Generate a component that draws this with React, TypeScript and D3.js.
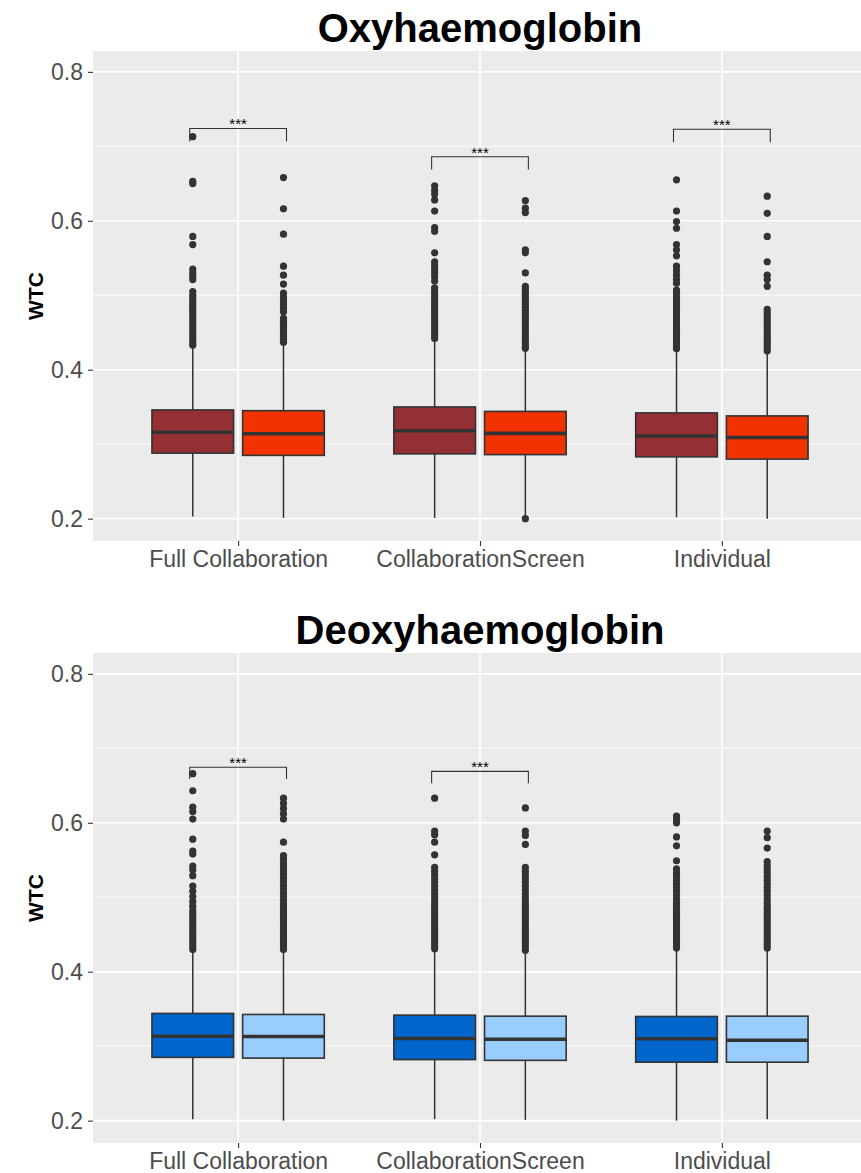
import { useRef, useEffect } from 'react';
import * as d3 from 'd3';

const groups = ['Full Collaboration', 'CollaborationScreen', 'Individual'];
const conditions = ['first', 'second'];
const yTicks = [0.2, 0.4, 0.6, 0.8];
const yMinorTicks = [0.3, 0.5, 0.7];

// box order: FC first, FC second, CS first, CS second, Ind first, Ind second
const oxyLower = [0.203, 0.201, 0.201, 0.204, 0.202, 0.2];
const oxyQ1 = [0.288, 0.285, 0.287, 0.286, 0.283, 0.28];
const oxyMedian = [0.316, 0.314, 0.318, 0.3145, 0.311, 0.309];
const oxyQ3 = [0.346, 0.345, 0.35, 0.344, 0.342, 0.338];
const oxyUpper = [0.431, 0.434, 0.44, 0.427, 0.427, 0.422];
const oxyOutliers = [
  [0.713, 0.653, 0.65, 0.579, 0.568, 0.535, 0.53, 0.525, 0.521, 0.505, 0.5, 0.496, 0.492, 0.488, 0.484, 0.48, 0.476, 0.472, 0.468, 0.464, 0.46, 0.456, 0.452, 0.448, 0.444, 0.44, 0.436, 0.433],
  [0.658, 0.616, 0.582, 0.539, 0.527, 0.515, 0.503, 0.498, 0.493, 0.488, 0.483, 0.478, 0.469, 0.465, 0.461, 0.457, 0.453, 0.449, 0.445, 0.441, 0.437],
  [0.647, 0.641, 0.636, 0.628, 0.613, 0.591, 0.586, 0.557, 0.545, 0.54, 0.535, 0.53, 0.525, 0.519, 0.51, 0.506, 0.502, 0.498, 0.494, 0.49, 0.486, 0.482, 0.478, 0.474, 0.47, 0.466, 0.462, 0.458, 0.454, 0.45, 0.446, 0.442],
  [0.627, 0.617, 0.611, 0.561, 0.557, 0.53, 0.512, 0.508, 0.504, 0.5, 0.496, 0.492, 0.488, 0.484, 0.48, 0.476, 0.472, 0.468, 0.464, 0.46, 0.456, 0.452, 0.448, 0.444, 0.44, 0.436, 0.432, 0.429, 0.2],
  [0.655, 0.613, 0.599, 0.59, 0.568, 0.561, 0.553, 0.539, 0.533, 0.527, 0.521, 0.516, 0.507, 0.503, 0.499, 0.495, 0.491, 0.487, 0.483, 0.479, 0.475, 0.471, 0.467, 0.463, 0.459, 0.455, 0.451, 0.447, 0.443, 0.439, 0.435, 0.431, 0.428],
  [0.633, 0.61, 0.579, 0.545, 0.527, 0.521, 0.512, 0.481, 0.477, 0.473, 0.469, 0.465, 0.461, 0.457, 0.453, 0.449, 0.445, 0.441, 0.437, 0.433, 0.429, 0.425],
];
const oxyBracketGroups = ['Full Collaboration', 'CollaborationScreen', 'Individual'];
const oxyBracketBar = [0.724, 0.686, 0.723];
const oxyBracketTip = [0.7065, 0.669, 0.7055];

const deoxyLower = [0.202, 0.2, 0.202, 0.201, 0.2, 0.202];
const deoxyQ1 = [0.285, 0.284, 0.282, 0.281, 0.2785, 0.2785];
const deoxyMedian = [0.3134, 0.313, 0.3103, 0.3094, 0.31, 0.308];
const deoxyQ3 = [0.344, 0.3426, 0.3417, 0.3403, 0.3399, 0.3403];
const deoxyUpper = [0.428, 0.426, 0.43, 0.426, 0.43, 0.429];
const deoxyOutliers = [
  [0.666, 0.643, 0.621, 0.615, 0.605, 0.578, 0.562, 0.558, 0.542, 0.537, 0.529, 0.515, 0.508, 0.501, 0.494, 0.488, 0.482, 0.478, 0.474, 0.47, 0.466, 0.462, 0.458, 0.454, 0.45, 0.446, 0.442, 0.438, 0.434, 0.43],
  [0.633, 0.626, 0.619, 0.612, 0.605, 0.574, 0.556, 0.551, 0.546, 0.541, 0.536, 0.531, 0.526, 0.521, 0.516, 0.511, 0.506, 0.501, 0.496, 0.491, 0.486, 0.482, 0.478, 0.474, 0.47, 0.466, 0.462, 0.458, 0.454, 0.45, 0.446, 0.442, 0.438, 0.434, 0.43],
  [0.633, 0.589, 0.584, 0.574, 0.557, 0.54, 0.535, 0.53, 0.525, 0.52, 0.515, 0.51, 0.505, 0.5, 0.495, 0.49, 0.486, 0.482, 0.478, 0.474, 0.47, 0.466, 0.462, 0.458, 0.454, 0.45, 0.446, 0.442, 0.438, 0.434, 0.431],
  [0.62, 0.589, 0.583, 0.571, 0.54, 0.535, 0.53, 0.525, 0.52, 0.515, 0.51, 0.505, 0.5, 0.495, 0.49, 0.486, 0.482, 0.478, 0.474, 0.47, 0.466, 0.462, 0.458, 0.454, 0.45, 0.446, 0.442, 0.438, 0.434, 0.429],
  [0.609, 0.605, 0.6, 0.581, 0.569, 0.549, 0.538, 0.533, 0.528, 0.523, 0.518, 0.513, 0.508, 0.503, 0.498, 0.493, 0.488, 0.484, 0.48, 0.476, 0.472, 0.468, 0.464, 0.46, 0.456, 0.452, 0.448, 0.444, 0.44, 0.436, 0.432],
  [0.589, 0.58, 0.566, 0.548, 0.543, 0.538, 0.533, 0.528, 0.523, 0.518, 0.513, 0.508, 0.503, 0.498, 0.493, 0.488, 0.484, 0.48, 0.476, 0.472, 0.468, 0.464, 0.46, 0.456, 0.452, 0.448, 0.444, 0.44, 0.436, 0.432],
];
const deoxyBracketGroups = ['Full Collaboration', 'CollaborationScreen'];
const deoxyBracketBar = [0.6745, 0.6691];
const deoxyBracketTip = [0.6588, 0.653];

const oxyColors = ['#943034', '#F23300'];
const deoxyColors = ['#0066CC', '#99CCFF'];

const font = '"Liberation Sans", Arial, Helvetica, sans-serif';

function App() {
  const svgRef = useRef(null);
  const width = 861;
  const height = 1173;

  useEffect(() => {
    const svg = d3.select(svgRef.current);
    svg.selectAll('*').remove();

    const panel = { left: 93, right: 867, top: 51, bottom: 541 };
    const x = d3
      .scalePoint()
      .domain(groups)
      .range([panel.left, panel.right])
      .padding(0.6);
    const step = x.step();
    const sub = d3
      .scaleBand()
      .domain(conditions)
      .range([-0.375 * step, 0.375 * step]);
    const y = d3
      .scaleLinear()
      .domain([0.17, 0.828])
      .range([panel.bottom, panel.top]);

    const drawPanel = (offset, title, stats, outliers, colors, brackets) => {
      const g = svg.append('g').attr('transform', `translate(0,${offset})`);

      g.append('rect')
        .attr('x', panel.left)
        .attr('y', panel.top)
        .attr('width', panel.right - panel.left)
        .attr('height', panel.bottom - panel.top)
        .attr('fill', '#EBEBEB');

      g.selectAll('.minor')
        .data(yMinorTicks)
        .join('line')
        .attr('x1', panel.left)
        .attr('x2', panel.right)
        .attr('y1', (d) => y(d))
        .attr('y2', (d) => y(d))
        .attr('stroke', '#fff')
        .attr('stroke-width', 0.8);

      g.selectAll('.major')
        .data(yTicks)
        .join('line')
        .attr('x1', panel.left)
        .attr('x2', panel.right)
        .attr('y1', (d) => y(d))
        .attr('y2', (d) => y(d))
        .attr('stroke', '#fff')
        .attr('stroke-width', 1.6);

      g.selectAll('.vgrid')
        .data(groups)
        .join('line')
        .attr('x1', (d) => x(d))
        .attr('x2', (d) => x(d))
        .attr('y1', panel.top)
        .attr('y2', panel.bottom)
        .attr('stroke', '#fff')
        .attr('stroke-width', 1.6);

      // axes
      const yAxis = g
        .append('g')
        .attr('transform', `translate(${panel.left},0)`)
        .call(
          d3
            .axisLeft(y)
            .tickValues(yTicks)
            .tickSize(5)
            .tickPadding(5)
            .tickFormat(d3.format('.1f'))
        );
      const xAxis = g
        .append('g')
        .attr('transform', `translate(0,${panel.bottom})`)
        .call(d3.axisBottom(x).tickSize(5).tickPadding(4.5));
      [yAxis, xAxis].forEach((a) => {
        a.select('.domain').remove();
        a.selectAll('.tick line').attr('stroke', '#333333').attr('stroke-width', 1.1);
        a.selectAll('.tick text')
          .attr('fill', '#4D4D4D')
          .style('font-family', font)
          .style('font-size', '23px');
      });

      g.append('text')
        .attr('transform', `translate(43,${(panel.top + panel.bottom) / 2}) rotate(-90)`)
        .attr('text-anchor', 'middle')
        .style('font-family', font)
        .style('font-size', '21px')
        .style('font-weight', 'bold')
        .text('WTC');

      g.append('text')
        .attr('x', (panel.left + panel.right) / 2)
        .attr('y', 41.5)
        .attr('text-anchor', 'middle')
        .style('font-family', font)
        .style('font-size', '40px')
        .style('font-weight', 'bold')
        .text(title);

      const boxes = [];
      groups.forEach((grp, i) => {
        conditions.forEach((c, j) => {
          const k = i * 2 + j;
          boxes.push({
            cx: x(grp) + sub(c) + sub.bandwidth() / 2,
            lower: stats.lower[k],
            q1: stats.q1[k],
            median: stats.median[k],
            q3: stats.q3[k],
            upper: stats.upper[k],
            outliers: outliers[k],
            fill: colors[j],
          });
        });
      });
      const bw = sub.bandwidth() * 0.9;

      const bg = g.selectAll('.box').data(boxes).join('g');
      bg.selectAll('circle')
        .data((d) => d.outliers.map((v) => ({ cx: d.cx, v })))
        .join('circle')
        .attr('cx', (d) => d.cx)
        .attr('cy', (d) => y(d.v))
        .attr('r', 3.6)
        .attr('fill', '#333333');
      bg.append('line')
        .attr('x1', (d) => d.cx)
        .attr('x2', (d) => d.cx)
        .attr('y1', (d) => y(d.upper))
        .attr('y2', (d) => y(d.q3))
        .attr('stroke', '#333333')
        .attr('stroke-width', 1.5);
      bg.append('line')
        .attr('x1', (d) => d.cx)
        .attr('x2', (d) => d.cx)
        .attr('y1', (d) => y(d.q1))
        .attr('y2', (d) => y(d.lower))
        .attr('stroke', '#333333')
        .attr('stroke-width', 1.5);
      bg.append('rect')
        .attr('x', (d) => d.cx - bw / 2)
        .attr('y', (d) => y(d.q3))
        .attr('width', bw)
        .attr('height', (d) => y(d.q1) - y(d.q3))
        .attr('fill', (d) => d.fill)
        .attr('stroke', '#333333')
        .attr('stroke-width', 1.6);
      bg.append('line')
        .attr('x1', (d) => d.cx - bw / 2)
        .attr('x2', (d) => d.cx + bw / 2)
        .attr('y1', (d) => y(d.median))
        .attr('y2', (d) => y(d.median))
        .attr('stroke', '#333333')
        .attr('stroke-width', 3.6);

      // significance brackets
      const br = g
        .selectAll('.bracket')
        .data(brackets.groups.map((grp, i) => ({ grp, bar: brackets.bar[i], tip: brackets.tip[i] })))
        .join('g');
      br.append('path')
        .attr('d', (d) => {
          const x1 = x(d.grp) - 0.2 * step;
          const x2 = x(d.grp) + 0.2 * step;
          return `M${x1},${y(d.tip)}V${y(d.bar)}H${x2}V${y(d.tip)}`;
        })
        .attr('fill', 'none')
        .attr('stroke', '#333333')
        .attr('stroke-width', 1.1);
      br.append('text')
        .attr('x', (d) => x(d.grp))
        .attr('y', (d) => y(d.bar) + 1)
        .attr('text-anchor', 'middle')
        .style('font-family', font)
        .style('font-size', '15px')
        .text('***');
    };

    drawPanel(
      0,
      'Oxyhaemoglobin',
      { lower: oxyLower, q1: oxyQ1, median: oxyMedian, q3: oxyQ3, upper: oxyUpper },
      oxyOutliers,
      oxyColors,
      { groups: oxyBracketGroups, bar: oxyBracketBar, tip: oxyBracketTip }
    );
    drawPanel(
      602,
      'Deoxyhaemoglobin',
      { lower: deoxyLower, q1: deoxyQ1, median: deoxyMedian, q3: deoxyQ3, upper: deoxyUpper },
      deoxyOutliers,
      deoxyColors,
      { groups: deoxyBracketGroups, bar: deoxyBracketBar, tip: deoxyBracketTip }
    );
  }, []);

  return (
    <svg
      ref={svgRef}
      width={width}
      height={height}
      style={{ position: 'absolute', left: 0, top: 0, background: '#fff' }}
    ></svg>
  );
}

export default App;
